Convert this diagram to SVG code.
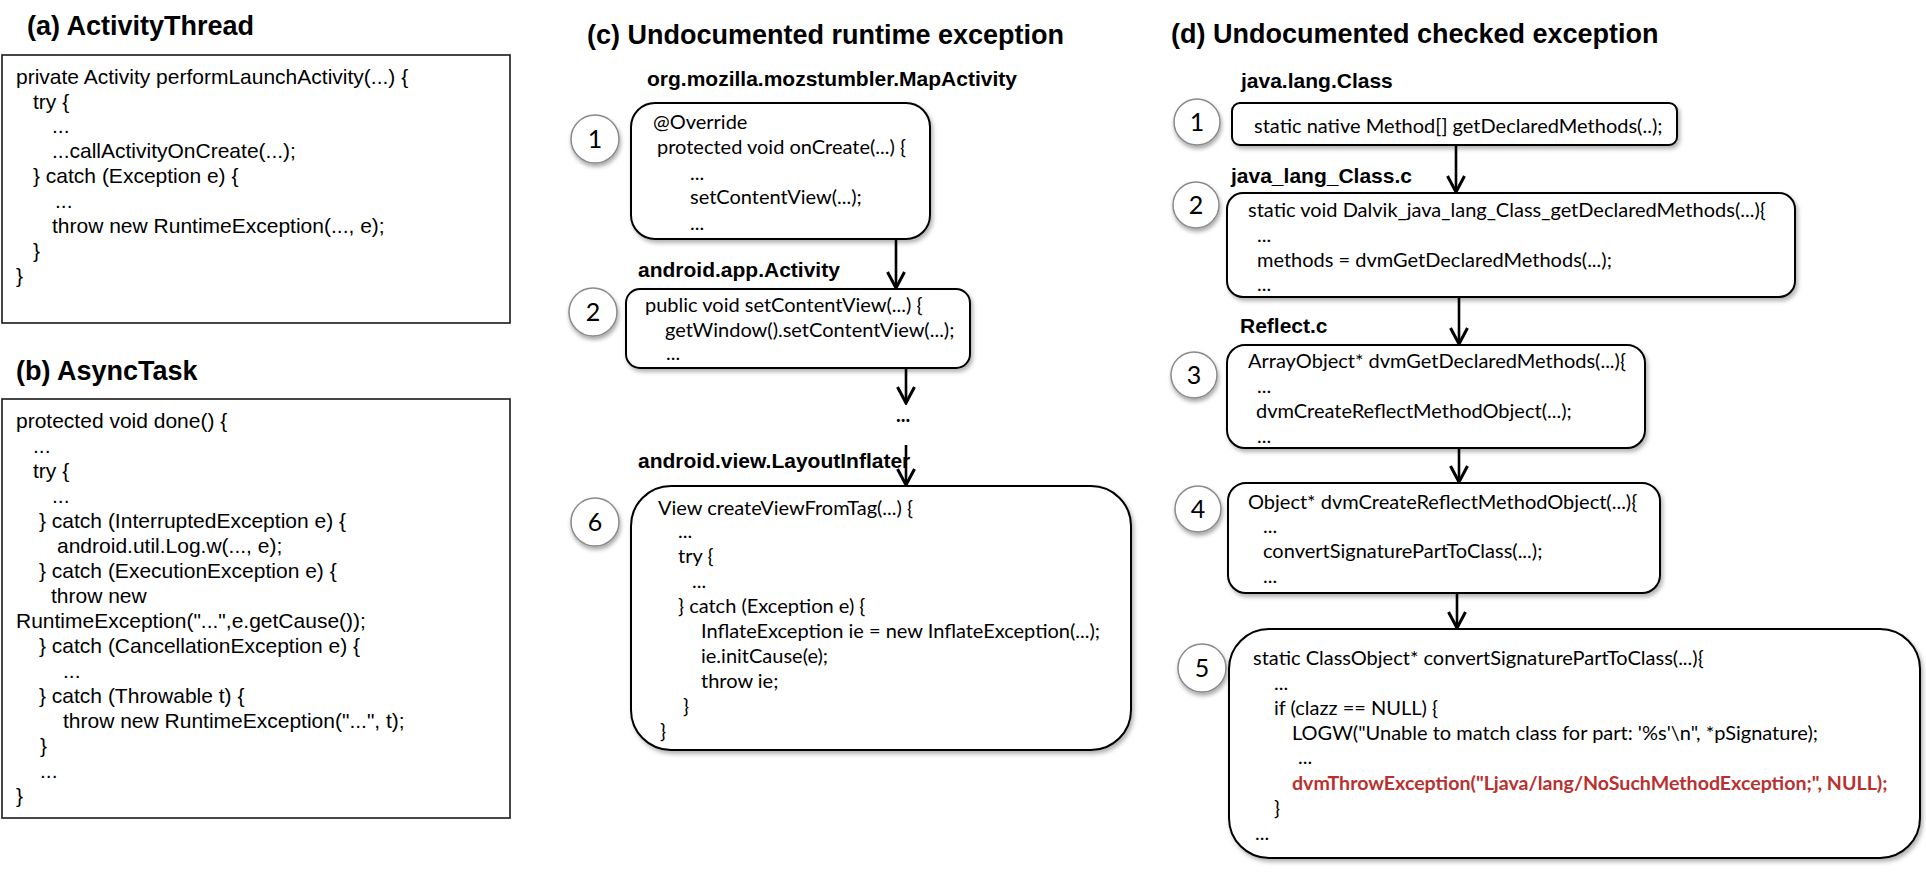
<svg xmlns="http://www.w3.org/2000/svg" width="1926" height="886" viewBox="0 0 1926 886">
<style>
.title{font-family:"Liberation Sans",Arial,sans-serif;font-weight:bold;font-size:27px;fill:#000}
.label{font-family:"Liberation Sans",Arial,sans-serif;font-weight:bold;font-size:21px;fill:#000}
.plain{font-family:"Liberation Sans",Arial,sans-serif;font-size:21px;fill:#000}
.code{font-family:Lato,"Open Sans",sans-serif;font-size:20px;fill:#000}
.red{font-family:Lato,"Open Sans",sans-serif;font-size:19.6px;font-weight:bold;fill:#b8312f}
.num{font-family:Lato,"Open Sans",sans-serif;font-size:25px;fill:#000;text-anchor:middle}
.sq{fill:#fff;stroke:#1a1a1a;stroke-width:1.6}
.rb{fill:#fff;stroke:#000;stroke-width:2;filter:url(#sh)}
.cir{fill:#fff;stroke:#8a8a8a;stroke-width:1.5;filter:url(#csh)}
.conn{stroke:#000;stroke-width:2.6;fill:none;marker-end:url(#arr)}
</style>
<defs>
<filter id="sh" x="-5%" y="-5%" width="115%" height="125%">
<feDropShadow dx="2" dy="3" stdDeviation="2" flood-color="#000" flood-opacity="0.3"/>
</filter>
<filter id="csh" x="-30%" y="-30%" width="170%" height="180%">
<feDropShadow dx="1" dy="3" stdDeviation="2" flood-color="#000" flood-opacity="0.35"/>
</filter>
<marker id="arr" viewBox="0 0 20 20" refX="18" refY="10" markerWidth="20" markerHeight="20" markerUnits="userSpaceOnUse" orient="auto">
<path d="M2,1.5 L18,10 L2,18.5" fill="none" stroke="#000" stroke-width="3"/>
</marker>
</defs>
<rect width="1926" height="886" fill="#fff"/>

<g id="panel-a">
<text class="title" x="27" y="35">(a) ActivityThread</text>
<rect class="sq" x="2" y="55" width="508" height="268"/>
<text class="plain" x="16" y="84">private Activity performLaunchActivity(...) {</text>
<text class="plain" x="33" y="109">try {</text>
<text class="plain" x="52" y="133">...</text>
<text class="plain" x="52" y="158">...callActivityOnCreate(...);</text>
<text class="plain" x="33" y="183">} catch (Exception e) {</text>
<text class="plain" x="55" y="208">...</text>
<text class="plain" x="52" y="233">throw new RuntimeException(..., e);</text>
<text class="plain" x="33" y="258">}</text>
<text class="plain" x="16" y="283">}</text>
</g>

<g id="panel-b">
<text class="title" x="16" y="380">(b) AsyncTask</text>
<rect class="sq" x="2" y="399" width="508" height="419"/>
<text class="plain" x="16" y="428">protected void done() {</text>
<text class="plain" x="33" y="453">...</text>
<text class="plain" x="33" y="478">try {</text>
<text class="plain" x="52" y="503">...</text>
<text class="plain" x="39" y="528">} catch (InterruptedException e) {</text>
<text class="plain" x="57" y="553">android.util.Log.w(..., e);</text>
<text class="plain" x="39" y="578">} catch (ExecutionException e) {</text>
<text class="plain" x="51" y="603">throw new</text>
<text class="plain" x="16" y="628">RuntimeException("...",e.getCause());</text>
<text class="plain" x="39" y="653">} catch (CancellationException e) {</text>
<text class="plain" x="63" y="678">...</text>
<text class="plain" x="39" y="703">} catch (Throwable t) {</text>
<text class="plain" x="63" y="728">throw new RuntimeException("...", t);</text>
<text class="plain" x="40" y="753">}</text>
<text class="plain" x="40" y="778">...</text>
<text class="plain" x="16" y="803">}</text>
</g>

<g id="panel-c-title">
<text class="title" x="587" y="44">(c) Undocumented runtime exception</text>
</g>

<g id="c1">
<text class="label" x="647" y="86">org.mozilla.mozstumbler.MapActivity</text>
<circle class="cir" cx="595" cy="139" r="24"/>
<text class="num" x="595" y="148">1</text>
<rect class="rb" x="631" y="103" width="299" height="136" rx="24"/>
<text class="code" x="653" y="129">@Override</text>
<text class="code" x="657" y="154">protected void onCreate(...) {</text>
<text class="code" x="690" y="180">...</text>
<text class="code" x="690" y="204">setContentView(...);</text>
<text class="code" x="690" y="230">...</text>
</g>

<g id="c2">
<text class="label" x="638" y="277">android.app.Activity</text>
<circle class="cir" cx="593" cy="312" r="24"/>
<text class="num" x="593" y="321">2</text>
<rect class="rb" x="626" y="289" width="344" height="79" rx="14"/>
<text class="code" x="645" y="312">public void setContentView(...) {</text>
<text class="code" x="665" y="337">getWindow().setContentView(...);</text>
<text class="code" x="666" y="360">...</text>
</g>

<g id="c-ellipsis">
<text class="code" x="896" y="422" font-weight="bold" font-size="23px">...</text>
</g>

<g id="c6">
<text class="label" x="638" y="468">android.view.LayoutInflater</text>
<circle class="cir" cx="595" cy="522" r="24"/>
<text class="num" x="595" y="531">6</text>
<rect class="rb" x="631" y="486" width="500" height="264" rx="40"/>
<text class="code" x="658" y="515">View createViewFromTag(...) {</text>
<text class="code" x="678" y="538">...</text>
<text class="code" x="678" y="563">try {</text>
<text class="code" x="692" y="588">...</text>
<text class="code" x="678" y="613">} catch (Exception e) {</text>
<text class="code" x="701" y="638">InflateException ie = new InflateException(...);</text>
<text class="code" x="701" y="663">ie.initCause(e);</text>
<text class="code" x="701" y="688">throw ie;</text>
<text class="code" x="683" y="713">}</text>
<text class="code" x="660" y="738">}</text>
</g>

<g id="panel-d-title">
<text class="title" x="1171" y="43">(d) Undocumented checked exception</text>
</g>

<g id="d1">
<text class="label" x="1241" y="88">java.lang.Class</text>
<circle class="cir" cx="1197" cy="122" r="23"/>
<text class="num" x="1197" y="131">1</text>
<rect class="rb" x="1232" y="103" width="445" height="42" rx="8"/>
<text class="code" x="1254" y="133">static native Method[] getDeclaredMethods(..);</text>
</g>

<g id="d2">
<text class="label" x="1231" y="183">java_lang_Class.c</text>
<circle class="cir" cx="1196" cy="205" r="23"/>
<text class="num" x="1196" y="214">2</text>
<rect class="rb" x="1227" y="193" width="568" height="104" rx="16"/>
<text class="code" x="1248" y="217">static void Dalvik_java_lang_Class_getDeclaredMethods(...){</text>
<text class="code" x="1257" y="242">...</text>
<text class="code" x="1257" y="267">methods = dvmGetDeclaredMethods(...);</text>
<text class="code" x="1257" y="291">...</text>
</g>

<g id="d3">
<text class="label" x="1240" y="333">Reflect.c</text>
<circle class="cir" cx="1194" cy="375" r="23"/>
<text class="num" x="1194" y="384">3</text>
<rect class="rb" x="1227" y="345" width="418" height="103" rx="18"/>
<text class="code" x="1248" y="368">ArrayObject* dvmGetDeclaredMethods(...){</text>
<text class="code" x="1257" y="393">...</text>
<text class="code" x="1256" y="418">dvmCreateReflectMethodObject(...);</text>
<text class="code" x="1257" y="443">...</text>
</g>

<g id="d4">
<circle class="cir" cx="1198" cy="509" r="23"/>
<text class="num" x="1198" y="518">4</text>
<rect class="rb" x="1228" y="483" width="432" height="110" rx="18"/>
<text class="code" x="1248" y="509">Object* dvmCreateReflectMethodObject(...){</text>
<text class="code" x="1263" y="533">...</text>
<text class="code" x="1263" y="558">convertSignaturePartToClass(...);</text>
<text class="code" x="1263" y="583">...</text>
</g>

<g id="d5">
<circle class="cir" cx="1202" cy="668" r="24"/>
<text class="num" x="1202" y="677">5</text>
<rect class="rb" x="1229" y="629" width="691" height="229" rx="40"/>
<text class="code" x="1253" y="665">static ClassObject* convertSignaturePartToClass(...){</text>
<text class="code" x="1274" y="690">...</text>
<text class="code" x="1274" y="715">if (clazz == NULL) {</text>
<text class="code" x="1292" y="740">LOGW("Unable to match class for part: '%s'\n", *pSignature);</text>
<text class="code" x="1298" y="764">...</text>
<text class="red" x="1292" y="790">dvmThrowException("Ljava/lang/NoSuchMethodException;", NULL);</text>
<text class="code" x="1274" y="815">}</text>
<text class="code" x="1255" y="840">...</text>
</g>

<g id="connectors">
<line class="conn" x1="896" y1="239" x2="896" y2="288"/>
<line class="conn" x1="906" y1="368" x2="906" y2="403"/>
<line class="conn" x1="906" y1="445" x2="906" y2="485"/>
<line class="conn" x1="1456" y1="145" x2="1456" y2="192"/>
<line class="conn" x1="1459" y1="297" x2="1459" y2="344"/>
<line class="conn" x1="1459" y1="448" x2="1459" y2="482"/>
<line class="conn" x1="1457" y1="593" x2="1457" y2="628"/>
</g>
</svg>
